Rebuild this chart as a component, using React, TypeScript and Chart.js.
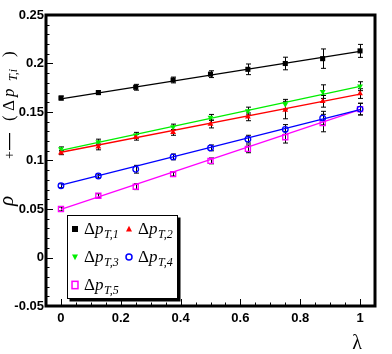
import React, { useEffect, useRef } from "react";
import { Chart, registerables } from "chart.js";

Chart.register(...registerables);

const lambdas = [0, 0.125, 0.25, 0.375, 0.5, 0.625, 0.75, 0.875, 1];
const pt1 = [0.1644, 0.170, 0.1755, 0.183, 0.189, 0.194, 0.200, 0.205, 0.213];
const pt1Err = [0.002, 0.002, 0.003, 0.003, 0.0035, 0.0055, 0.0065, 0.010, 0.0067];
const pt2 = [0.108, 0.114, 0.124, 0.129, 0.1376, 0.145, 0.152, 0.161, 0.169];
const pt2Err = [0.002, 0.003, 0.003, 0.003, 0.004, 0.004, 0.009, 0.006, 0.005];
const pt3 = [0.112, 0.119, 0.126, 0.1345, 0.1445, 0.151, 0.158, 0.171, 0.1766];
const pt3Err = [0.002, 0.003, 0.003, 0.003, 0.003, 0.004, 0.005, 0.007, 0.0046];
const pt4 = [0.074, 0.084, 0.091, 0.1037, 0.113, 0.122, 0.132, 0.1437, 0.153];
const pt4Err = [0.002, 0.002, 0.004, 0.003, 0.003, 0.004, 0.005, 0.007, 0.006];
const pt5 = [0.050, 0.0637, 0.073, 0.086, 0.0996, 0.112, 0.124, 0.1386, 0.153];
const pt5Err = [0.002, 0.002, 0.003, 0.002, 0.003, 0.004, 0.006, 0.009, 0.006];

const fitX = [0, 1];
const fit1 = [0.1635, 0.2125];
const fit2 = [0.1085, 0.1685];
const fit3 = [0.1105, 0.1765];
const fit4 = [0.0745, 0.1525];
const fit5 = [0.0495, 0.1525];

const seriesSubs = ["T,1", "T,2", "T,3", "T,4", "T,5"];
const colors = ["#000000", "#ff0000", "#00ee00", "#0000ff", "#ff00ff"];

const xTicks = [0, 0.2, 0.4, 0.6, 0.8, 1];
const xTickLabels = ["0", "0.2", "0.4", "0.6", "0.8", "1"];
const yTicks = [-0.05, 0, 0.05, 0.1, 0.15, 0.2, 0.25];
const yTickLabels = ["-0.05", "0", "0.05", "0.1", "0.15", "0.2", "0.25"];

const pointSeries = [pt1, pt2, pt3, pt4, pt5];
const errSeries = [pt1Err, pt2Err, pt3Err, pt4Err, pt5Err];
const fitSeries = [fit1, fit2, fit3, fit4, fit5];

const SERIF = "'Liberation Serif', 'DejaVu Serif', serif";

function drawMarker(ctx: CanvasRenderingContext2D, k: number, x: number, y: number, s: number) {
  ctx.save();
  ctx.strokeStyle = colors[k];
  ctx.fillStyle = colors[k];
  ctx.lineWidth = 1.5;
  ctx.beginPath();
  if (k === 0) {
    ctx.fillRect(x - s, y - s, 2 * s, 2 * s);
  } else if (k === 1) {
    ctx.moveTo(x, y - s * 1.1);
    ctx.lineTo(x + s, y + s * 0.8);
    ctx.lineTo(x - s, y + s * 0.8);
    ctx.closePath();
    ctx.fill();
  } else if (k === 2) {
    ctx.moveTo(x, y + s * 1.1);
    ctx.lineTo(x + s, y - s * 0.8);
    ctx.lineTo(x - s, y - s * 0.8);
    ctx.closePath();
    ctx.fill();
  } else if (k === 3) {
    ctx.arc(x, y, s, 0, Math.PI * 2);
    ctx.stroke();
  } else {
    ctx.strokeRect(x - s * 0.85, y - s * 1.05, 1.7 * s, 2.1 * s);
  }
  ctx.restore();
}

const decorPlugin = {
  id: "decor",
  beforeDatasetsDraw(chart: any) {
    const ctx = chart.ctx as CanvasRenderingContext2D;
    const xs = chart.scales.x;
    const ys = chart.scales.y;
    ctx.save();
    ctx.strokeStyle = "#000";
    ctx.lineWidth = 1;
    errSeries.forEach((errs, k) => {
      const vals = pointSeries[k];
      lambdas.forEach((lx, j) => {
        const px = Math.round(xs.getPixelForValue(lx)) + 0.5;
        const y1 = ys.getPixelForValue(vals[j] - errs[j]);
        const y2 = ys.getPixelForValue(vals[j] + errs[j]);
        ctx.beginPath();
        ctx.moveTo(px, y1);
        ctx.lineTo(px, y2);
        ctx.moveTo(px - 2.5, y1);
        ctx.lineTo(px + 2.5, y1);
        ctx.moveTo(px - 2.5, y2);
        ctx.lineTo(px + 2.5, y2);
        ctx.stroke();
      });
    });
    ctx.restore();
  },
  afterDraw(chart: any) {
    const ctx = chart.ctx as CanvasRenderingContext2D;
    const a = chart.chartArea;
    const xs = chart.scales.x;
    const ys = chart.scales.y;
    ctx.save();
    // inward ticks
    ctx.strokeStyle = "#000";
    ctx.lineWidth = 1;
    for (let i = -5; i <= 25; i++) {
      const v = i / 100;
      const py = Math.round(ys.getPixelForValue(v)) + 0.5;
      const len = i % 5 === 0 ? 7 : 3.5;
      ctx.beginPath();
      ctx.moveTo(a.left, py);
      ctx.lineTo(a.left + len, py);
      ctx.stroke();
    }
    for (let i = 0; i <= 20; i++) {
      const v = i / 20;
      const px = Math.round(xs.getPixelForValue(v)) + 0.5;
      const len = i % 4 === 0 ? 7 : 3.5;
      ctx.beginPath();
      ctx.moveTo(px, a.bottom);
      ctx.lineTo(px, a.bottom - len);
      ctx.stroke();
    }
    // frame
    ctx.lineWidth = 3;
    ctx.strokeRect(a.left, a.top, a.right - a.left, a.bottom - a.top);

    // legend box
    const lx0 = 67.5, ly0 = 215.5, lw = 110, lh = 83;
    ctx.fillStyle = "#000";
    ctx.fillRect(lx0 + 2, ly0 + 2, lw + 1, lh + 1);
    ctx.fillStyle = "#fff";
    ctx.fillRect(lx0, ly0, lw, lh);
    ctx.lineWidth = 1;
    ctx.strokeStyle = "#000";
    ctx.strokeRect(lx0, ly0, lw, lh);
    const rows = [229, 257, 285];
    const colsM = [75, 129];
    const colsT = [84, 138];
    seriesSubs.forEach((sub, k) => {
      const r = Math.floor(k / 2);
      const c = k % 2;
      drawMarker(ctx, k, colsM[c], rows[r], k === 4 ? 3.5 : 3);
      ctx.fillStyle = "#000";
      ctx.textBaseline = "alphabetic";
      ctx.textAlign = "left";
      const bx = colsT[c];
      const by = rows[r] + 4.5;
      ctx.font = `17px ${SERIF}`;
      ctx.fillText("Δ", bx, by);
      const wD = ctx.measureText("Δ").width;
      ctx.font = `italic 17px ${SERIF}`;
      ctx.fillText("p", bx + wD, by);
      const wp = ctx.measureText("p").width;
      ctx.font = `italic 12px ${SERIF}`;
      ctx.fillText(sub, bx + wD + wp + 0.5, by + 4);
    });

    // y title (rotated)
    ctx.save();
    ctx.translate(14, 207);
    ctx.rotate(-Math.PI / 2);
    ctx.fillStyle = "#000";
    ctx.textBaseline = "alphabetic";
    ctx.textAlign = "left";
    ctx.font = `italic 21px ${SERIF}`;
    ctx.fillText("ρ", 1, -1);
    ctx.font = `14px ${SERIF}`;
    ctx.fillText("+", 48, 0);
    ctx.fillRect(57, -5, 17, 1.2);
    ctx.font = `17px ${SERIF}`;
    ctx.fillText("(", 86, 0);
    ctx.fillText("Δ", 96, 0);
    ctx.font = `italic 17px ${SERIF}`;
    ctx.fillText("p", 110, 0);
    ctx.font = `italic 12px ${SERIF}`;
    ctx.fillText("T,i", 126, 3);
    ctx.font = `17px ${SERIF}`;
    ctx.fillText(")", 150, 0);
    ctx.restore();

    // x title
    ctx.fillStyle = "#000";
    ctx.font = `20px ${SERIF}`;
    ctx.textAlign = "center";
    ctx.textBaseline = "alphabetic";
    ctx.fillText("λ", 357, 349);
    ctx.restore();
  },
};

export default function App() {
  const ref = useRef<HTMLCanvasElement | null>(null);
  useEffect(() => {
    document.body.style.margin = "0";
    const canvas = ref.current!;
    const datasets: any[] = [];
    fitSeries.forEach((f, k) => {
      datasets.push({
        type: "line",
        data: fitX.map((x, i) => ({ x, y: f[i] })),
        borderColor: colors[k],
        borderWidth: 1.3,
        pointRadius: 0,
        showLine: true,
        fill: false,
      });
    });
    pointSeries.forEach((vals, k) => {
      const styles = ["rect", "triangle", "triangle", "circle", "rect"];
      datasets.push({
        type: "scatter",
        data: lambdas.map((x, i) => ({ x, y: vals[i] })),
        pointStyle: styles[k],
        rotation: k === 2 ? 180 : 0,
        pointRadius: k === 0 ? 3.6 : k === 4 ? 3.6 : k === 3 ? 2.8 : 3.4,
        pointBorderWidth: k >= 3 ? 1.3 : 0,
        pointBackgroundColor: k >= 3 ? "rgba(255,255,255,0)" : colors[k],
        pointBorderColor: colors[k],
        showLine: false,
      });
    });
    const tickFont = { family: "'Liberation Sans Narrow', 'Liberation Sans', Arial, sans-serif", weight: "bold" as const, size: 13 };
    const chart = new Chart(canvas, {
      type: "scatter",
      data: { datasets },
      options: {
        animation: false,
        responsive: false,
        devicePixelRatio: 1,
        layout: { padding: { top: 15, right: 17, left: 0, bottom: 0 } },
        plugins: { legend: { display: false }, tooltip: { enabled: false } },
        scales: {
          x: {
            type: "linear",
            min: -0.05,
            max: 1.05,
            grid: { display: false, drawTicks: false },
            border: { display: false },
            afterBuildTicks: (s: any) => {
              s.ticks = xTicks.map((v) => ({ value: v }));
            },
            afterFit: (s: any) => {
              s.height = 48;
            },
            ticks: {
              color: "#000",
              font: tickFont,
              padding: 5,
              maxRotation: 0,
              autoSkip: false,
              callback: (v: any) => {
                const i = xTicks.findIndex((t) => Math.abs(t - v) < 1e-9);
                return i >= 0 ? xTickLabels[i] : "";
              },
            },
          },
          y: {
            type: "linear",
            min: -0.05,
            max: 0.25,
            grid: { display: false, drawTicks: false },
            border: { display: false },
            afterBuildTicks: (s: any) => {
              s.ticks = yTicks.map((v) => ({ value: v }));
            },
            afterFit: (s: any) => {
              s.width = 46;
            },
            ticks: {
              color: "#000",
              font: tickFont,
              padding: 2,
              autoSkip: false,
              callback: (v: any) => {
                const i = yTicks.findIndex((t) => Math.abs(t - v) < 1e-9);
                return i >= 0 ? yTickLabels[i] : "";
              },
            },
          },
        },
      },
      plugins: [decorPlugin],
    });
    return () => chart.destroy();
  }, []);
  return (
    <div style={{ position: "relative", width: 392, height: 354, background: "#fff" }}>
      <canvas ref={ref} width={392} height={354} style={{ width: 392, height: 354, display: "block" }} />
    </div>
  );
}
